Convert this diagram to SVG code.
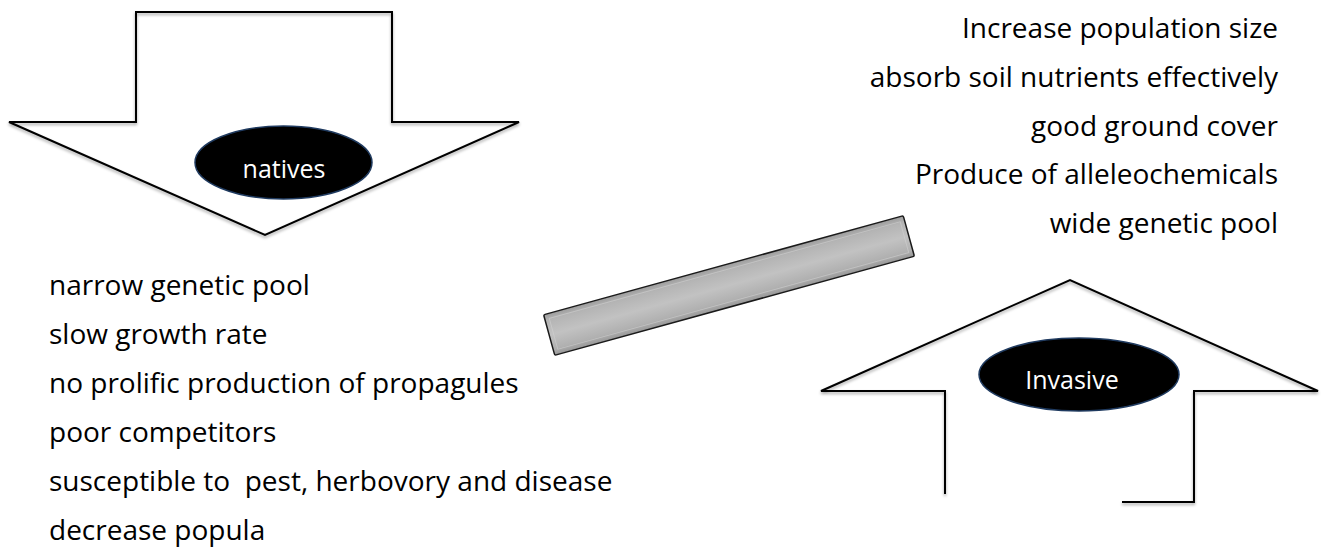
<svg xmlns="http://www.w3.org/2000/svg" width="1327" height="547" viewBox="0 0 1327 547">
  <style>
    .lbl { font-family: "Open Sans", "Liberation Sans", sans-serif; font-size: 28px; fill: #000; }
    .oval-text { font-family: "Open Sans", "Liberation Sans", sans-serif; font-size: 25px; fill: #fff; text-anchor: middle; }
    .arrow-fill { fill: #fff; stroke: none; }
    .arrow-line { fill: none; stroke: #000; stroke-width: 2; stroke-linejoin: miter; }
    .oval { fill: #000; stroke: #1f3a5f; stroke-width: 1.5; }
  </style>
  <defs>
    <filter id="shadow" x="-5%" y="-5%" width="110%" height="115%">
      <feDropShadow dx="0" dy="2" stdDeviation="1.5" flood-color="#000" flood-opacity="0.35"/>
    </filter>
    <linearGradient id="barGrad" x1="0" y1="0" x2="0" y2="1">
      <stop offset="0" stop-color="#9c9c9c"/>
      <stop offset="0.15" stop-color="#b4b4b4"/>
      <stop offset="0.5" stop-color="#c2c2c2"/>
      <stop offset="0.85" stop-color="#b0b0b0"/>
      <stop offset="1" stop-color="#969696"/>
    </linearGradient>
  </defs>
  <rect width="1327" height="547" fill="#fff"/>

  <g id="natives">
    <path class="arrow-fill" d="M136,12 L392,12 L392,122 L519,122 L265,235 L9,122 L136,122 Z"/>
    <path class="arrow-line" filter="url(#shadow)" d="M136,12 L392,12 L392,122 L519,122 L265,235 L9,122 L136,122 Z"/>
    <ellipse class="oval" cx="283.5" cy="162.5" rx="88.5" ry="36.5"/>
    <text class="oval-text" x="284" y="178">natives</text>
  </g>

  <g id="invasive">
    <path class="arrow-fill" d="M945,494 L945,391 L821,391 L1070,280 L1318,391 L1194,391 L1194,502 L1122,502 L1122,494 Z"/>
    <path class="arrow-line" filter="url(#shadow)" d="M945,494 L945,391 L821,391 L1070,280 L1318,391 L1194,391 L1194,502 L1122,502"/>
    <ellipse class="oval" cx="1079" cy="374.5" rx="100" ry="36.5"/>
    <text class="oval-text" x="1072" y="389">Invasive</text>
  </g>

  <g id="connectors">
    <g transform="translate(729,285.5) rotate(-15.4)">
      <rect x="-186.5" y="-21" width="373" height="42" rx="1.5" fill="url(#barGrad)" stroke="#1a1a1a" stroke-width="1.5"/>
      <rect x="-182" y="-16" width="364" height="32" fill="none" stroke="#d0d0d0" stroke-width="1" opacity="0.6"/>
    </g>
  </g>

  <g id="native-traits">
    <text class="lbl" x="49" y="295">narrow genetic pool</text>
    <text class="lbl" x="49" y="344">slow growth rate</text>
    <text class="lbl" x="49" y="393">no prolific production of propagules</text>
    <text class="lbl" x="49" y="442">poor competitors</text>
    <text class="lbl" x="49" y="491" xml:space="preserve">susceptible to  pest, herbovory and disease</text>
    <text class="lbl" x="49" y="540">decrease popula</text>
  </g>

  <g id="invasive-traits" text-anchor="end">
    <text class="lbl" x="1278" y="38">Increase population size</text>
    <text class="lbl" x="1278" y="87">absorb soil nutrients effectively</text>
    <text class="lbl" x="1278" y="136">good ground cover</text>
    <text class="lbl" x="1278" y="184">Produce of alleleochemicals</text>
    <text class="lbl" x="1278" y="233">wide genetic pool</text>
  </g>
</svg>
